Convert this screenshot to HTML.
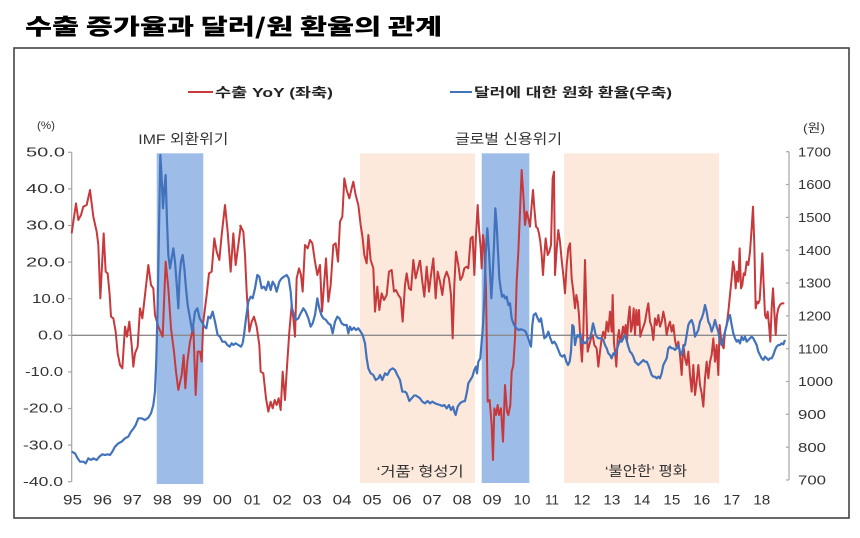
<!DOCTYPE html>
<html>
<head>
<meta charset="utf-8">
<style>
html,body{margin:0;padding:0;background:#fff;}
svg{display:block;}
text{font-family:"Liberation Sans","Noto Sans CJK KR",sans-serif;fill:#333;}
.t{font-family:"Noto Sans CJK KR","Liberation Sans",sans-serif;}
</style>
</head>
<body>
<svg width="860" height="538" viewBox="0 0 860 538" xmlns="http://www.w3.org/2000/svg">
<rect x="0" y="0" width="860" height="538" fill="#fff"/>
<!-- title -->
<text class="t" x="25" y="34.5" font-size="22" font-weight="900" style="fill:#000" textLength="417" lengthAdjust="spacingAndGlyphs">수출 증가율과 달러/원 환율의 관계</text>
<!-- frame -->
<rect x="14" y="48" width="835" height="470" fill="none" stroke="#444" stroke-width="1.6"/>

<!-- legend -->
<line x1="188" y1="92" x2="213" y2="92" stroke="#c8393b" stroke-width="2"/>
<text x="215" y="97" font-size="13" font-weight="bold" style="fill:#222" textLength="118" lengthAdjust="spacingAndGlyphs">수출 YoY (좌축)</text>
<line x1="450" y1="92" x2="472" y2="92" stroke="#4272bb" stroke-width="2"/>
<text x="474" y="97" font-size="13" font-weight="bold" style="fill:#222" textLength="198" lengthAdjust="spacingAndGlyphs">달러에 대한 원화 환율(우축)</text>

<!-- shaded bands -->
<rect x="156.7" y="153.3" width="46.6" height="330.7" fill="#9dbde8"/>
<rect x="360" y="153.3" width="115" height="329.7" fill="#fce9dc"/>
<rect x="481.7" y="153.3" width="47.6" height="329.7" fill="#9dbde8"/>
<rect x="564" y="153.3" width="155" height="329.7" fill="#fce9dc"/>

<!-- annotations -->
<text x="138.3" y="144" font-size="14" textLength="90" lengthAdjust="spacingAndGlyphs">IMF 외환위기</text>
<text x="455" y="144" font-size="14" textLength="107" lengthAdjust="spacingAndGlyphs">글로벌 신용위기</text>
<text x="376.7" y="476.5" font-size="14" textLength="87" lengthAdjust="spacingAndGlyphs">‘거품’ 형성기</text>
<text x="605" y="476" font-size="14" textLength="82" lengthAdjust="spacingAndGlyphs">‘불안한’ 평화</text>

<!-- axis units -->
<text x="37" y="129" font-size="11" textLength="18" lengthAdjust="spacingAndGlyphs">(%)</text>
<text x="803" y="132" font-size="12" textLength="22" lengthAdjust="spacingAndGlyphs">(원)</text>

<!-- left axis -->
<g stroke="#a6a6a6" stroke-width="1.2">
<line x1="71.7" y1="152.3" x2="71.7" y2="481.7"/>
<line x1="68" y1="152.3" x2="71.7" y2="152.3"/>
<line x1="68" y1="188.9" x2="71.7" y2="188.9"/>
<line x1="68" y1="225.5" x2="71.7" y2="225.5"/>
<line x1="68" y1="262.1" x2="71.7" y2="262.1"/>
<line x1="68" y1="298.7" x2="71.7" y2="298.7"/>
<line x1="68" y1="335.3" x2="71.7" y2="335.3"/>
<line x1="68" y1="371.9" x2="71.7" y2="371.9"/>
<line x1="68" y1="408.5" x2="71.7" y2="408.5"/>
<line x1="68" y1="445.1" x2="71.7" y2="445.1"/>
<line x1="68" y1="481.7" x2="71.7" y2="481.7"/>
</g>
<g font-size="12.5" text-anchor="end">
<text x="65" y="156.5" textLength="39" lengthAdjust="spacingAndGlyphs">50.0</text>
<text x="65" y="193.1" textLength="39" lengthAdjust="spacingAndGlyphs">40.0</text>
<text x="65" y="229.7" textLength="39" lengthAdjust="spacingAndGlyphs">30.0</text>
<text x="65" y="266.3" textLength="39" lengthAdjust="spacingAndGlyphs">20.0</text>
<text x="65" y="302.9" textLength="33" lengthAdjust="spacingAndGlyphs">10.0</text>
<text x="63" y="339.5" textLength="25" lengthAdjust="spacingAndGlyphs">0.0</text>
<text x="63" y="376.1" textLength="38" lengthAdjust="spacingAndGlyphs">-10.0</text>
<text x="63" y="412.7" textLength="40" lengthAdjust="spacingAndGlyphs">-20.0</text>
<text x="63" y="449.3" textLength="40" lengthAdjust="spacingAndGlyphs">-30.0</text>
<text x="63" y="485.9" textLength="40" lengthAdjust="spacingAndGlyphs">-40.0</text>
</g>

<!-- right axis -->
<g stroke="#a6a6a6" stroke-width="1.2">
<line x1="789" y1="151.7" x2="789" y2="480"/>
<line x1="786" y1="151.7" x2="789" y2="151.7"/>
<line x1="786" y1="184.5" x2="789" y2="184.5"/>
<line x1="786" y1="217.4" x2="789" y2="217.4"/>
<line x1="786" y1="250.2" x2="789" y2="250.2"/>
<line x1="786" y1="283.0" x2="789" y2="283.0"/>
<line x1="786" y1="315.9" x2="789" y2="315.9"/>
<line x1="786" y1="348.7" x2="789" y2="348.7"/>
<line x1="786" y1="381.5" x2="789" y2="381.5"/>
<line x1="786" y1="414.3" x2="789" y2="414.3"/>
<line x1="786" y1="447.2" x2="789" y2="447.2"/>
<line x1="786" y1="480" x2="789" y2="480"/>
</g>
<g font-size="13">
<text x="798" y="156.4" textLength="33" lengthAdjust="spacingAndGlyphs">1700</text>
<text x="798" y="189.2" textLength="33" lengthAdjust="spacingAndGlyphs">1600</text>
<text x="798" y="222.1" textLength="33" lengthAdjust="spacingAndGlyphs">1500</text>
<text x="798" y="254.9" textLength="33" lengthAdjust="spacingAndGlyphs">1400</text>
<text x="798" y="287.7" textLength="33" lengthAdjust="spacingAndGlyphs">1300</text>
<text x="798" y="320.6" textLength="33" lengthAdjust="spacingAndGlyphs">1200</text>
<text x="798" y="353.4" textLength="30" lengthAdjust="spacingAndGlyphs">1100</text>
<text x="798" y="386.2" textLength="35" lengthAdjust="spacingAndGlyphs">1000</text>
<text x="798" y="419.0" textLength="28" lengthAdjust="spacingAndGlyphs">900</text>
<text x="798" y="451.9" textLength="28" lengthAdjust="spacingAndGlyphs">800</text>
<text x="798" y="484.7" textLength="28" lengthAdjust="spacingAndGlyphs">700</text>
</g>

<!-- x labels -->
<g font-size="14" text-anchor="middle">
<text x="72.5" y="504.5" textLength="19" lengthAdjust="spacingAndGlyphs">95</text>
<text x="102.5" y="504.5" textLength="19" lengthAdjust="spacingAndGlyphs">96</text>
<text x="132.4" y="504.5" textLength="19" lengthAdjust="spacingAndGlyphs">97</text>
<text x="162.4" y="504.5" textLength="19" lengthAdjust="spacingAndGlyphs">98</text>
<text x="192.4" y="504.5" textLength="19" lengthAdjust="spacingAndGlyphs">99</text>
<text x="222.4" y="504.5" textLength="19" lengthAdjust="spacingAndGlyphs">00</text>
<text x="252.3" y="504.5" textLength="17" lengthAdjust="spacingAndGlyphs">01</text>
<text x="282.3" y="504.5" textLength="19" lengthAdjust="spacingAndGlyphs">02</text>
<text x="312.3" y="504.5" textLength="19" lengthAdjust="spacingAndGlyphs">03</text>
<text x="342.2" y="504.5" textLength="19" lengthAdjust="spacingAndGlyphs">04</text>
<text x="372.2" y="504.5" textLength="19" lengthAdjust="spacingAndGlyphs">05</text>
<text x="402.2" y="504.5" textLength="19" lengthAdjust="spacingAndGlyphs">06</text>
<text x="432.1" y="504.5" textLength="19" lengthAdjust="spacingAndGlyphs">07</text>
<text x="462.1" y="504.5" textLength="19" lengthAdjust="spacingAndGlyphs">08</text>
<text x="492.1" y="504.5" textLength="19" lengthAdjust="spacingAndGlyphs">09</text>
<text x="522.0" y="504.5" textLength="17" lengthAdjust="spacingAndGlyphs">10</text>
<text x="552.0" y="504.5" textLength="14" lengthAdjust="spacingAndGlyphs">11</text>
<text x="582.0" y="504.5" textLength="17" lengthAdjust="spacingAndGlyphs">12</text>
<text x="611.9" y="504.5" textLength="17" lengthAdjust="spacingAndGlyphs">13</text>
<text x="641.9" y="504.5" textLength="17" lengthAdjust="spacingAndGlyphs">14</text>
<text x="671.9" y="504.5" textLength="17" lengthAdjust="spacingAndGlyphs">15</text>
<text x="701.8" y="504.5" textLength="17" lengthAdjust="spacingAndGlyphs">16</text>
<text x="731.8" y="504.5" textLength="17" lengthAdjust="spacingAndGlyphs">17</text>
<text x="761.8" y="504.5" textLength="17" lengthAdjust="spacingAndGlyphs">18</text>
</g>

<!-- zero line -->
<line x1="71.7" y1="335.3" x2="787" y2="335.3" stroke="#8c8c8c" stroke-width="1.3"/>

<!-- red series: exports YoY -->
<g fill="none" stroke="#c8393b" stroke-width="2" stroke-linejoin="round">
<polyline vector-effect="non-scaling-stroke" transform="translate(65,145) scale(0.33333)" points="20,265 33,175 40,225 48,210 55,185 65,180 75,135 85,215 95,260 100,300 106,460 116,265 122,380 128,385 134,450 138,515 145,520 152,560 158,625 165,660 172,670 180,545 186,575 193,530 200,600 205,665 210,625 218,605 225,490 232,520 240,450 250,360 258,420 265,430 270,510 280,545 293,575 302,350 310,430 318,550 327,620 333,680 340,735 350,690 356,630 361,730 367,650 375,590 385,545 392,750 398,620 405,620 410,650 415,530 425,450 432,385 440,380 448,280 455,320 463,345 470,270 480,180 488,260 497,380 505,265 512,360 520,300 527,245 525,240"/>
<polyline vector-effect="non-scaling-stroke" transform="translate(240,145) scale(0.33333)" points="0,240 10,260 15,330 20,440 28,560 35,530 42,515 50,545 58,600 62,680 70,685 78,760 85,800 92,770 98,790 104,765 110,780 116,760 122,795 128,680 135,765 140,680 148,560 155,480 160,520 165,575 170,400 177,370 183,390 188,440 195,300 203,310 210,285 217,295 225,350 232,390 240,360 246,500 252,420 258,340 265,470 272,420 280,300 287,295 294,350 300,230 307,215 313,100 320,135 328,160 335,130 340,110 347,150 355,180 362,240 368,280 373,330 380,355 385,270 392,345 400,370 405,500 412,425 418,495 425,445 432,465 440,450 447,380 455,375 462,440 468,435 475,450 482,460 488,530 495,420 500,385 507,430 513,435 520,345 527,400 540,345"/>
<polyline vector-effect="non-scaling-stroke" transform="translate(415,145) scale(0.33333)" points="15,345 22,410 28,455 35,365 42,440 48,390 55,340 62,460 68,380 75,410 82,450 88,400 95,380 102,400 108,450 113,580 118,420 123,320 130,360 136,405 142,395 148,370 155,365 160,370 167,280 173,275 178,390 183,270 188,180 192,250 197,310 200,370 204,270 208,300 213,430 218,770 224,765 230,840 234,945 238,790 243,810 248,780 252,810 258,790 264,890 270,720 276,800 280,810 286,780 290,680 295,660 300,580 305,410 310,320 315,200 320,75 325,150 330,240 335,200 340,220 345,245 350,180 354,135 358,190 363,245 368,250 372,265 376,290 380,330 384,390 388,330 392,280 398,330 403,320 408,300 413,100 417,80 420,390 426,300 430,255 435,290 440,345 446,400 450,445 455,360 460,310 465,295 470,400 475,440 480,490 484,450 488,470 492,510 497,600 501,650 505,560 510,345 514,490 518,620 523,600 528,580 533,570 538,600 545,610"/>
<polyline vector-effect="non-scaling-stroke" transform="translate(595,145) scale(0.33333)" points="5,610 10,665 15,620 20,580 25,560 30,580 35,530 40,560 45,500 50,560 53,450 57,595 60,620 64,665 68,580 72,555 76,590 80,575 84,545 88,565 92,540 96,590 100,520 104,485 108,560 112,540 116,490 120,570 124,495 128,540 132,495 136,575 140,560 145,545 150,530 155,500 160,475 165,530 170,545 175,585 180,520 185,540 190,510 195,545 200,530 205,500 210,525 215,570 220,545 225,530 230,560 235,540 240,585 245,610 250,590 255,630 260,690 265,600 270,640 275,660 280,620 285,690 290,740 295,660 300,750 305,710 310,660 315,720 320,745 325,785 330,700 335,650 340,700 345,650 350,630 355,580 360,650 365,600 370,690 374,540 378,580 382,600 386,610 390,560 395,540 400,500 405,450 410,400 414,350 418,370 422,430 426,380 430,410 434,310 438,430 442,420 446,385 450,390 455,350 460,360 465,320 470,250 474,185 478,300 482,490 486,470 490,475 494,465 498,400 502,325 506,420 510,510 514,520 518,500 522,540 526,590 530,490 534,430 538,500 542,570 546,510 550,490 555,480 560,475 568,475"/>
</g>

<!-- blue series: KRW/USD -->
<g fill="none" stroke="#4272bb" stroke-width="2.2" stroke-linejoin="round">
<polyline vector-effect="non-scaling-stroke" transform="translate(65,145) scale(0.33333)" points="20,920 30,925 38,940 45,950 55,950 62,955 70,940 78,945 85,940 95,945 103,935 112,928 120,930 128,928 135,930 142,920 150,905 160,895 170,890 180,880 190,875 198,860 206,850 212,840 220,820 230,820 240,825 250,818 258,805 265,780 270,740 274,640 278,480 282,250 286,30 290,100 294,190 298,130 302,90 306,230 310,330 315,370 320,340 325,310 330,350 336,430 340,490 344,390 348,350 353,330 358,370 363,430 368,480 375,520 382,560 390,500 397,490 404,520 410,530 418,545 424,550 430,515 436,520 443,500 450,530 458,570 465,575 472,590 480,590 487,600 494,605 500,595 505,600 512,595 520,600 528,605 533,595"/>
<polyline vector-effect="non-scaling-stroke" transform="translate(240,145) scale(0.33333)" points="8,595 12,570 18,520 25,470 32,455 38,460 45,430 52,390 58,395 65,430 72,425 78,435 85,410 92,435 98,410 104,420 110,440 118,410 125,400 132,395 140,390 146,400 152,440 156,490 162,510 168,525 175,520 182,505 190,490 197,500 205,520 212,545 218,535 225,510 232,460 238,490 244,510 250,520 258,525 265,535 272,540 278,565 285,530 292,515 298,520 305,535 312,540 320,540 325,565 330,545 335,555 342,548 348,555 355,550 362,560 368,570 375,595 380,640 385,670 392,685 400,690 407,705 415,700 420,690 427,705 435,685 442,690 450,675 458,670 465,675 472,690 480,705 487,740 495,740 500,745 508,768 515,760 522,752 525,750"/>
<polyline vector-effect="non-scaling-stroke" transform="translate(415,145) scale(0.33333)" points="0,750 8,755 15,760 22,770 30,775 38,768 45,775 52,770 60,775 68,778 75,780 82,783 88,780 95,790 102,780 108,795 114,785 118,800 122,810 128,785 135,775 142,770 150,768 156,740 160,715 166,705 172,695 178,675 183,665 186,685 190,650 196,640 200,590 204,540 208,460 212,330 217,250 222,320 226,400 229,460 233,390 237,300 241,190 245,240 249,320 253,400 257,430 261,455 266,450 270,460 275,455 280,480 285,475 290,520 295,535 300,545 305,550 310,555 318,553 325,555 332,560 338,575 343,590 348,605 352,540 356,510 362,505 368,520 373,530 378,520 383,550 388,580 394,575 400,560 406,580 412,595 418,590 424,600 430,615 436,630 442,635 448,630 454,650 459,660 464,650 468,620 472,540 476,545 480,600 484,580 488,570 492,575 496,565 500,595 505,590 510,595 515,590 520,580 525,580 530,560 534,535 538,550 542,570 545,575"/>
<polyline vector-effect="non-scaling-stroke" transform="translate(595,145) scale(0.33333)" points="5,575 10,580 15,580 20,580 25,585 30,600 35,610 40,625 45,630 50,640 55,625 60,630 65,615 70,600 75,585 80,590 85,580 88,570 92,575 96,590 100,605 105,620 110,625 115,635 120,650 125,655 130,660 135,655 140,650 145,645 150,650 155,650 160,660 165,675 170,690 175,695 180,695 185,700 190,695 195,700 200,685 205,660 210,650 215,640 220,610 225,605 230,610 235,610 240,615 245,610 250,600 255,620 260,630 265,605 270,600 275,570 280,540 285,530 290,525 295,540 300,575 305,565 310,555 315,530 320,520 325,505 330,480 335,500 340,530 345,540 350,560 355,545 360,525 365,545 370,560 375,590 380,600 385,580 390,560 395,540 400,520 405,510 410,540 415,565 420,580 425,590 430,585 435,595 440,575 445,585 450,575 455,590 460,585 465,580 470,575 475,580 480,590 485,600 490,620 495,630 500,640 505,645 510,635 515,640 520,645 525,640 530,640 535,630 540,615 545,605 550,600 555,600 560,595 565,598 570,585"/>
</g>
</svg>
</body>
</html>
